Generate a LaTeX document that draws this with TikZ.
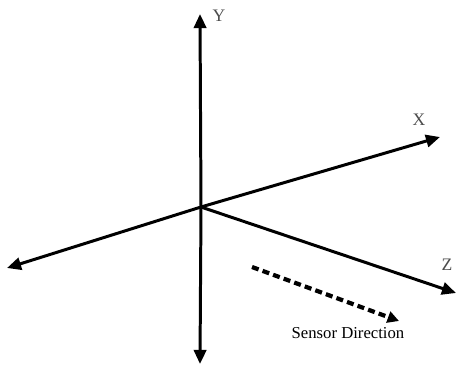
\documentclass[tikz,border=0pt]{standalone}
\usepackage{fontspec}
\setmainfont{Liberation Serif}
\usetikzlibrary{arrows.meta}

\begin{document}
\begin{tikzpicture}[x=0.02cm,y=-0.02cm,
    axis/.style={line width=1.7pt,-{Triangle[length=8pt,width=7pt]}},
    sensor/.style={line width=2.4pt,dash pattern=on 4pt off 2.4pt,
      -{Triangle[length=6.5pt,width=6.5pt]}},
    axislabel/.style={text=black!70,font=\fontsize{10}{12}\selectfont}]
  \useasboundingbox (0,0) rectangle (457,365);

  % Axes
  \coordinate (O) at (201,207);
  \coordinate (Ytop) at (200,14);
  \coordinate (Ybot) at (200,364);
  \coordinate (Xpos) at (440,137);
  \coordinate (Xneg) at (7,268);
  \coordinate (Zpos) at (456,293);

  \draw[axis] (O) -- (Ytop);
  \draw[axis] (O) -- (Ybot);
  \draw[axis] (O) -- (Xpos);
  \draw[axis] (O) -- (Xneg);
  \draw[axis] (O) -- (Zpos);

  % Labels
  \node[axislabel] (ylab) at (219,16) {Y};
  \node[axislabel] (xlab) at (419,120) {X};
  \node[axislabel] (zlab) at (447,265) {Z};

  % Sensor direction
  \coordinate (s1) at (252,267);
  \coordinate (s2) at (399,321);
  \draw[sensor] (s1) -- (s2);
  \node[font=\fontsize{9.5}{11}\selectfont] (slab) at (348,333) {Sensor Direction};
\end{tikzpicture}
\end{document}
